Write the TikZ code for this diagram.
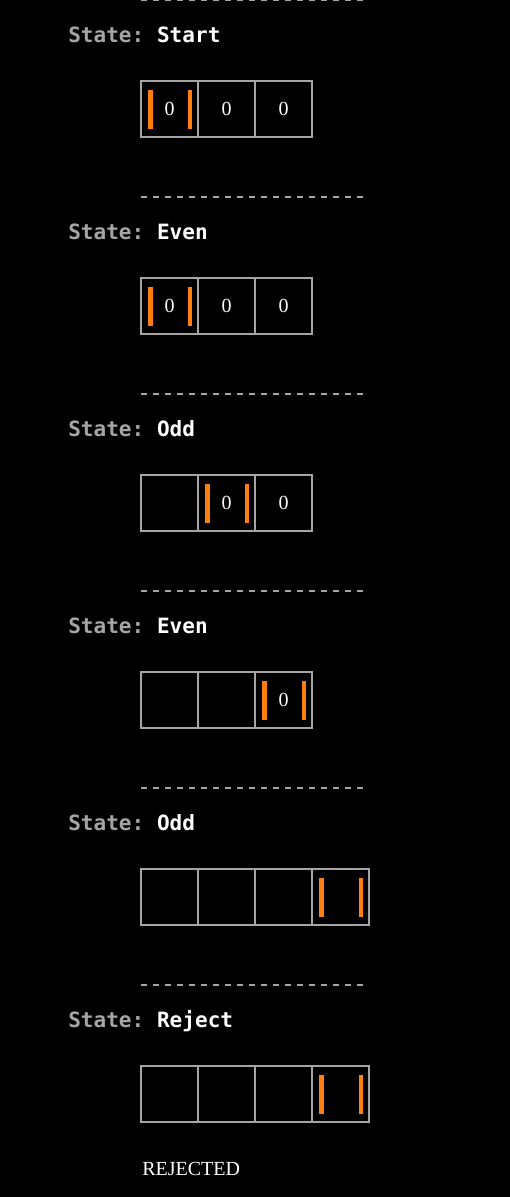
\documentclass[tikz,border=0pt]{standalone}
\usepackage{fontspec}
\setmainfont{Liberation Serif}
\setmonofont{DejaVu Sans Mono}
\usetikzlibrary{positioning}
\definecolor{cellgray}{RGB}{165,165,165}
\definecolor{labelgray}{RGB}{165,165,165}
\definecolor{headorange}{RGB}{255,127,14}
% #1 name, #2 left edge of cell, #3 offset of the step, #4 symbol
\newcommand\tapecell[4]{\node[tapecell] (#1) at (#2+28.5,#3+109) {#4};}
\newcommand\tapehead[2]{\fill[headorange] (#1+7,#2+90) rectangle (#1+11.5,#2+129);\fill[headorange] (#1+46.5,#2+90) rectangle (#1+51,#2+129);}
\newcommand\statelabel[3]{\node[statelbl] (#1) at (68,#2+42) {\textcolor{labelgray}{State:} #3};}
\newcommand\sepline[1]{\draw[sepdash] (141,#1) -- (364,#1);}

\begin{document}
\begin{tikzpicture}[x=0.75pt, y=-0.75pt,
  tapecell/.style={draw=cellgray, line width=1.6pt, minimum width=42.75pt, minimum height=42pt, inner sep=0pt, text=white, font=\fontsize{15}{18}\selectfont},
  statelbl/.style={anchor=base west, inner sep=0pt, text=white, font=\ttfamily\bfseries\fontsize{15.8}{18}\selectfont},
  sepdash/.style={draw=cellgray, line width=1.5pt, dash pattern=on 4.5pt off 4.5pt}]
\fill[black] (0,0) rectangle (510,1197);
\useasboundingbox (0,0) rectangle (510,1197);

% start
\sepline{0}
\statelabel{s1}{0}{Start}
\tapecell{a1}{141}{0}{0}
\tapecell{a2}{198}{0}{0}
\tapecell{a3}{255}{0}{0}
\tapehead{141}{0}

% even
\sepline{197}
\statelabel{s2}{197}{Even}
\tapecell{b1}{141}{197}{0}
\tapecell{b2}{198}{197}{0}
\tapecell{b3}{255}{197}{0}
\tapehead{141}{197}

% odd
\sepline{394}
\statelabel{s3}{394}{Odd}
\tapecell{c1}{141}{394}{}
\tapecell{c2}{198}{394}{0}
\tapecell{c3}{255}{394}{0}
\tapehead{198}{394}

% even
\sepline{591}
\statelabel{s4}{591}{Even}
\tapecell{d1}{141}{591}{}
\tapecell{d2}{198}{591}{}
\tapecell{d3}{255}{591}{0}
\tapehead{255}{591}

% odd
\sepline{788}
\statelabel{s5}{788}{Odd}
\tapecell{e1}{141}{788}{}
\tapecell{e2}{198}{788}{}
\tapecell{e3}{255}{788}{}
\tapecell{e4}{312}{788}{}
\tapehead{312}{788}

% reject
\sepline{985}
\statelabel{s6}{985}{Reject}
\tapecell{f1}{141}{985}{}
\tapecell{f2}{198}{985}{}
\tapecell{f3}{255}{985}{}
\tapecell{f4}{312}{985}{}
\tapehead{312}{985}

\node[anchor=base west, inner sep=0pt, text=white, font=\fontsize{15}{18}\selectfont] (verdict) at (142,1175) {REJECTED};
\end{tikzpicture}
\end{document}
